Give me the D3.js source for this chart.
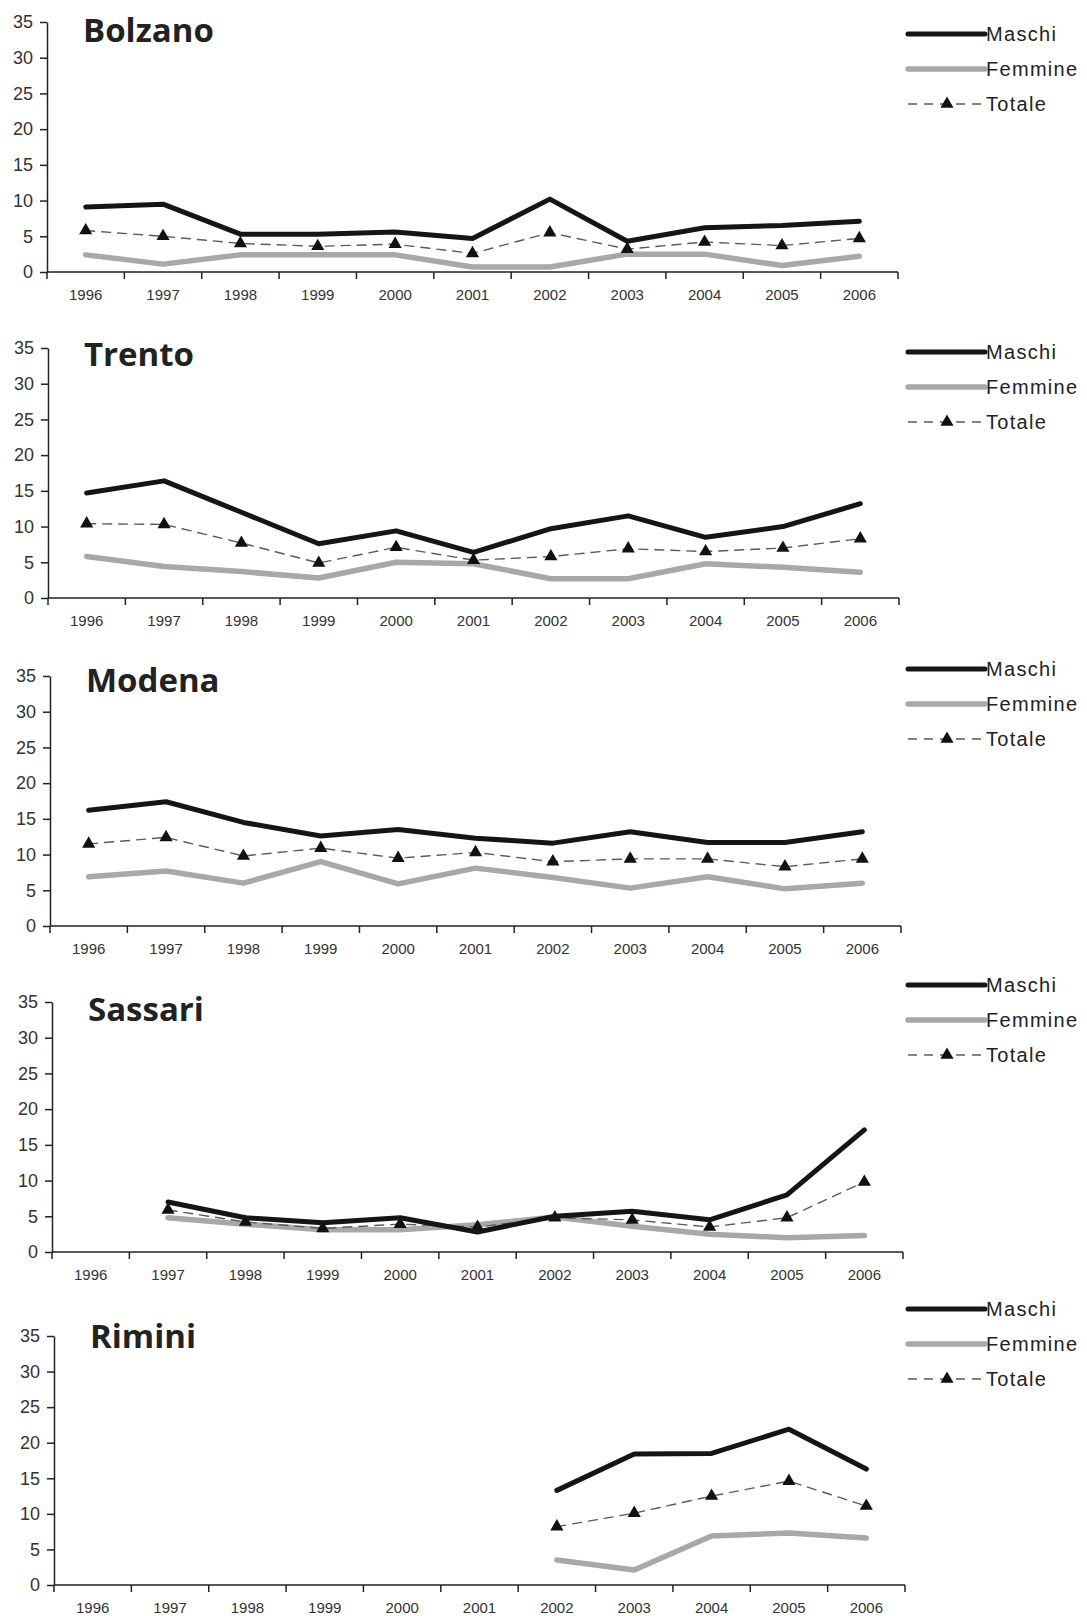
<!DOCTYPE html>
<html lang="en">
<head>
    <meta charset="utf-8">
    <title>Maschi Femmine Totale</title>
    <style>
        body{ margin:0; background:#fff; font-family: "Liberation Sans", Arial, sans-serif;}
        .axis path, .axis line { stroke:#222; stroke-width:1.5; }
        .axis text { fill:#333; font-family:"Liberation Sans", Arial, sans-serif; }
    </style>
    <script type="text/javascript" src="https://d3js.org/d3.v7.min.js"></script>
</head>
<body>
<div class="chart"></div>
<script type="text/javascript">
    // data
    const years = ["1996","1997","1998","1999","2000","2001","2002","2003","2004","2005","2006"];
    const yTicks = [0, 5, 10, 15, 20, 25, 30, 35];
    const cities = ["Bolzano", "Trento", "Modena", "Sassari", "Rimini"];
    const seriesNames = ["Maschi", "Femmine", "Totale"];

    const bolzanoMaschi  = [9.1, 9.5, 5.3, 5.3, 5.6, 4.7, 10.2, 4.3, 6.2, 6.5, 7.1];
    const bolzanoFemmine = [2.4, 1.1, 2.4, 2.4, 2.4, 0.7, 0.7, 2.5, 2.5, 0.9, 2.2];
    const bolzanoTotale  = [5.8, 5.0, 4.0, 3.6, 3.9, 2.6, 5.5, 3.2, 4.2, 3.7, 4.7];

    const trentoMaschi  = [14.7, 16.4, 12.0, 7.6, 9.4, 6.4, 9.7, 11.5, 8.5, 10.0, 13.2];
    const trentoFemmine = [5.8, 4.4, 3.7, 2.8, 5.0, 4.8, 2.7, 2.7, 4.8, 4.3, 3.6];
    const trentoTotale  = [10.4, 10.3, 7.7, 4.9, 7.1, 5.3, 5.8, 6.9, 6.5, 7.0, 8.3];

    const modenaMaschi  = [16.2, 17.4, 14.5, 12.6, 13.5, 12.3, 11.6, 13.2, 11.7, 11.7, 13.2];
    const modenaFemmine = [6.9, 7.7, 6.0, 9.0, 5.9, 8.1, 6.8, 5.3, 6.9, 5.2, 6.0];
    const modenaTotale  = [11.5, 12.4, 9.8, 10.9, 9.5, 10.3, 9.0, 9.4, 9.4, 8.3, 9.4];

    const sassariMaschi  = [null, 7.0, 4.8, 4.1, 4.8, 2.8, 5.0, 5.7, 4.5, 8.0, 17.1];
    const sassariFemmine = [null, 4.8, 3.9, 3.1, 3.1, 3.8, 4.9, 3.6, 2.5, 2.0, 2.3];
    const sassariTotale  = [null, 5.9, 4.2, 3.3, 3.9, 3.5, 4.8, 4.5, 3.5, 4.8, 9.8];

    const riminiMaschi  = [null, null, null, null, null, null, 13.3, 18.4, 18.5, 21.9, 16.3];
    const riminiFemmine = [null, null, null, null, null, null, 3.5, 2.1, 6.9, 7.3, 6.6];
    const riminiTotale  = [null, null, null, null, null, null, 8.2, 10.1, 12.5, 14.6, 11.1];

    const panelData = [
        [bolzanoMaschi, bolzanoFemmine, bolzanoTotale],
        [trentoMaschi, trentoFemmine, trentoTotale],
        [modenaMaschi, modenaFemmine, modenaTotale],
        [sassariMaschi, sassariFemmine, sassariTotale],
        [riminiMaschi, riminiFemmine, riminiTotale]
    ];

    // layout of each panel (scanned page is slightly skewed)
    const panelLeft = [47, 48, 50, 52, 54];
    const panelTop = [22, 348, 676, 1002, 1336];
    const panelBottom = [272, 598, 926, 1252, 1585];
    const titleY = [42, 366, 692, 1021, 1348];
    const legendY = [34, 352, 669, 985, 1309];
    const plotW = 851;

    const styles = {
        Maschi:  {stroke: "#151515", width: 5, dash: null},
        Femmine: {stroke: "#a8a8a8", width: 5.5, dash: null},
        Totale:  {stroke: "#5a5a5a", width: 1.4, dash: "9,7"}
    };

    const svg = d3.select(".chart").append("svg")
        .attr("width", 1087)
        .attr("height", 1616);

    const tri = d3.symbol().type(d3.symbolTriangle).size(75);

    cities.forEach((city, p) => {
        const xScale = d3.scaleBand()
            .domain(years)
            .range([panelLeft[p], panelLeft[p] + plotW]);
        const yScale = d3.scaleLinear()
            .domain([0, 35])
            .range([panelBottom[p], panelTop[p]]);

        const g = svg.append("g");

        const xAxis = d3.axisBottom(xScale).tickSize(0).tickPadding(17);
        const xg = g.append("g")
            .attr("class", "axis x-axis")
            .attr("transform", `translate(0, ${panelBottom[p]})`)
            .call(xAxis);
        xg.select(".domain").remove();
        xg.selectAll("text").attr("font-size", 15);
        // ticks between categories
        const bounds = years.map(y => xScale(y)).concat([xScale.range()[1]]);
        xg.selectAll(".sep").data(bounds).enter().append("line")
            .attr("class", "sep")
            .attr("x1", d => d).attr("x2", d => d)
            .attr("y1", 0).attr("y2", 7);
        xg.append("line")
            .attr("x1", xScale.range()[0]).attr("x2", xScale.range()[1])
            .attr("y1", 0).attr("y2", 0);

        const yAxis = d3.axisLeft(yScale).tickValues(yTicks).tickSize(7).tickPadding(7).tickSizeOuter(0);
        const yg = g.append("g")
            .attr("class", "axis y-axis")
            .attr("transform", `translate(${panelLeft[p]}, 0)`)
            .call(yAxis);
        yg.selectAll("text").attr("font-size", 18);

        g.append("text")
            .attr("x", panelLeft[p] + 36)
            .attr("y", titleY[p])
            .attr("font-family", "'Open Sans', 'DejaVu Sans', sans-serif")
            .attr("font-weight", 700)
            .attr("font-size", 33)
            .attr("fill", "#222")
            .text(city);

        const line = d3.line()
            .defined(d => d.v != null)
            .x(d => xScale(d.year) + xScale.bandwidth() / 2)
            .y(d => yScale(d.v));

        // draw Femmine first, then Totale, then Maschi on top
        [1, 2, 0].forEach(s => {
            const name = seriesNames[s];
            const pts = years.map((year, i) => ({year: year, v: panelData[p][s][i]}));
            g.append("path")
                .datum(pts)
                .attr("fill", "none")
                .attr("stroke", styles[name].stroke)
                .attr("stroke-width", styles[name].width)
                .attr("stroke-dasharray", styles[name].dash)
                .attr("stroke-linejoin", "round")
                .attr("stroke-linecap", "round")
                .attr("d", line);
            if (name === "Totale") {
                g.selectAll(".tri").data(pts.filter(d => d.v != null)).enter()
                    .append("path")
                    .attr("class", "tri")
                    .attr("fill", "#111")
                    .attr("transform", d => `translate(${xScale(d.year) + xScale.bandwidth() / 2}, ${yScale(d.v)})`)
                    .attr("d", tri);
            }
        });

        // legend
        const legend = g.append("g").attr("transform", `translate(908, ${legendY[p]})`);
        seriesNames.forEach((name, i) => {
            const ly = i * 35;
            legend.append("line")
                .attr("x1", 0).attr("x2", 77)
                .attr("y1", ly).attr("y2", ly)
                .attr("stroke", styles[name].stroke)
                .attr("stroke-width", styles[name].width)
                .attr("stroke-dasharray", styles[name].dash)
                .attr("stroke-linecap", name === "Totale" ? "butt" : "round");
            if (name === "Totale") {
                legend.append("path")
                    .attr("fill", "#111")
                    .attr("transform", `translate(39, ${ly})`)
                    .attr("d", tri);
            }
            legend.append("text")
                .attr("x", 78)
                .attr("y", ly + 7)
                .attr("font-size", 20)
                .attr("letter-spacing", 1.3)
                .attr("fill", "#222")
                .text(name);
        });
    });
</script>
</body>
</html>
